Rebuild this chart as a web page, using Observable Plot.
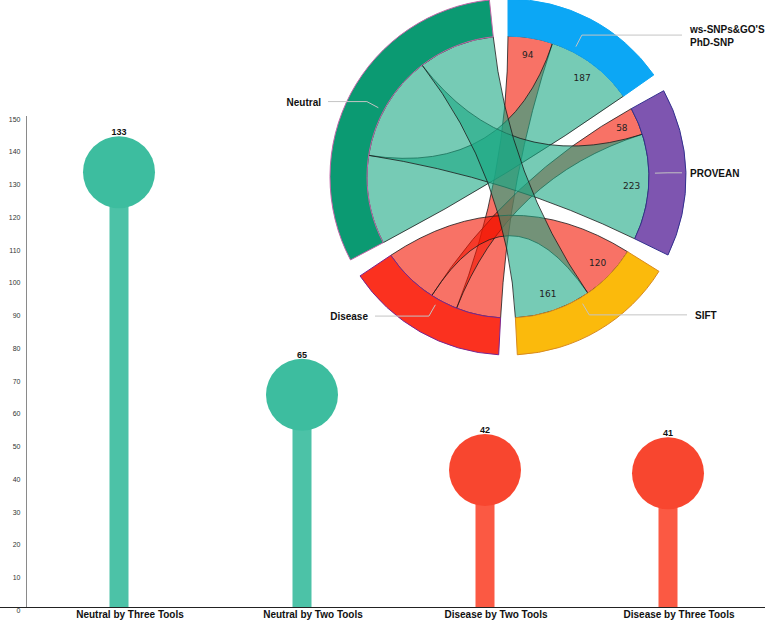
<!DOCTYPE html>
<html><head><meta charset="utf-8">
<script src="https://cdn.jsdelivr.net/npm/d3@7"></script>
<script src="https://cdn.jsdelivr.net/npm/@observablehq/plot@0.6"></script>
<style>body{margin:0;background:#fff;} svg{display:block;}</style>
</head><body><div id="chart"></div>
<script>
// ---- lollipop data ----
const categories = ["Neutral by Three Tools", "Neutral by Two Tools", "Disease by Two Tools", "Disease by Three Tools"];
const counts = [133, 65, 42, 41];
const classes = ["Neutral", "Neutral", "Disease", "Disease"];
const yTicks = [0, 10, 20, 30, 40, 50, 60, 70, 80, 90, 100, 110, 120, 130, 140, 150];

// ---- chord data ----
const tools = ["ws-SNPs&GO'S\nPhD-SNP", "PROVEAN", "SIFT"];
const toolDisease = [94, 58, 120];
const toolNeutral = [187, 223, 161];
const outcomes = ["Disease", "Neutral"];

// ---- styles ----
const dotColor = {Neutral: "#3dbd9f", Disease: "#f8462f"};
const stemColor = {Neutral: "#4cc2a7", Disease: "#fb5943"};
const groupFill = ["#0ca7f5", "#7e55b0", "#fbba0c", "#fb311f", "#0b9a72"];
const groupStroke = ["#0ca7f5", "#33308f", "#d98a1e", "#7a2590", "#c064a6"];
const ribbonFill = {Disease: "#f31400", Neutral: "#1aa984"};

const data = categories.map((c, i) => ({cat: c, value: counts[i], cls: classes[i]}));

// chord matrix: order [tools..., Disease, Neutral]
const names = [...tools, ...outcomes];
const n = names.length;
const matrix = Array.from({length: n}, () => Array(n).fill(0));
tools.forEach((t, i) => {
  matrix[i][3] = toolDisease[i]; matrix[3][i] = toolDisease[i];
  matrix[i][4] = toolNeutral[i]; matrix[4][i] = toolNeutral[i];
});

const layout = {cx: 508, cy: 177, rIn: 141, rOut: 178, pad: 6 * Math.PI / 180};
// label anchor x per group (text start for right side, text end for left side)
const labelX = [690, 690, 695, 368, 321];

function chordMark(index, scales, values, dimensions) {
  const chord = d3.chord().padAngle(layout.pad)(matrix);
  const g = d3.create("svg:g").attr("transform", `translate(${layout.cx},${layout.cy})`);
  const ribbon = d3.ribbon().radius(layout.rIn);
  const arc = d3.arc().innerRadius(layout.rIn).outerRadius(layout.rOut);
  const kind = c => (c.source.index === 3 || c.target.index === 3) ? "Disease" : "Neutral";
  const chords = Array.from(chord).sort((a, b) => (kind(a) === "Disease" ? 0 : 1) - (kind(b) === "Disease" ? 0 : 1));
  g.append("g").selectAll("path").data(chords).join("path")
    .attr("d", ribbon)
    .attr("fill", c => ribbonFill[kind(c)])
    .attr("fill-opacity", 0.6)
    .attr("stroke", "#1a1a1a")
    .attr("stroke-width", 0.8);
  g.append("g").selectAll("path").data(chord.groups).join("path")
    .attr("d", arc)
    .attr("fill", d => groupFill[d.index])
    .attr("stroke", d => groupStroke[d.index])
    .attr("stroke-width", 1);
  // ribbon value labels on tool side
  const lab = [];
  for (const c of chord) {
    const s = c.source.index < 3 ? c.source : c.target;
    lab.push({a: (s.startAngle + s.endAngle) / 2, v: s.value});
  }
  g.append("g").selectAll("text").data(lab).join("text")
    .attr("x", d => 124 * Math.sin(d.a))
    .attr("y", d => -124 * Math.cos(d.a))
    .attr("text-anchor", "middle").attr("dominant-baseline", "central")
    .attr("font-family", "DejaVu Sans").attr("font-size", 9).attr("fill", "#222")
    .text(d => d.v);
  // group labels + leader lines
  for (const grp of chord.groups) {
    const a = (grp.startAngle + grp.endAngle) / 2;
    const right = Math.sin(a) > 0;
    const p1 = [147 * Math.sin(a), -147 * Math.cos(a)];
    const p2 = [160 * Math.sin(a), -160 * Math.cos(a)];
    const lx = labelX[grp.index] - layout.cx;
    const end = right ? lx - 8 : lx + 7;
    g.append("path")
      .attr("d", `M${p1}L${p2}L${end},${p2[1]}`)
      .attr("fill", "none").attr("stroke", "#c4c4c4").attr("stroke-width", 1);
    const lines = names[grp.index].split("\n");
    const t = g.append("text")
      .attr("x", lx).attr("y", p2[1] - (lines.length - 1) * 6.5)
      .attr("text-anchor", right ? "start" : "end")
      .attr("dominant-baseline", "central")
      .attr("font-family", "Liberation Sans, Arial, sans-serif")
      .attr("font-weight", "bold").attr("font-size", 10).attr("fill", "#111");
    lines.forEach((l, i) => t.append("tspan").attr("x", lx).attr("dy", i ? 13 : 0).text(l));
  }
  return g.node();
}

const chart = Plot.plot({
  width: 765,
  height: 620,
  marginLeft: 26,
  marginRight: 5,
  marginTop: 116,
  marginBottom: 13,
  style: {fontFamily: "Liberation Sans, Arial, sans-serif", background: "#fff"},
  x: {type: "band", domain: categories, padding: 0, label: null},
  y: {domain: [0, 150], label: null},
  marks: [
    Plot.frame({anchor: "left", stroke: "#8a8a8a"}),
    Plot.axisY({ticks: yTicks, tickSize: 0, tickPadding: 6, fontSize: 7, dy: 3, fill: "#333", label: null}),
    Plot.axisX({tickSize: 0, tickPadding: 3, fontSize: 10, fontWeight: "bold", dx: 11, fill: "#111", label: null}),
    Plot.ruleX(data, {x: "cat", y1: 0, y2: "value", stroke: d => stemColor[d.cls], strokeWidth: 19}),
    Plot.dot(data, {x: "cat", y: "value", r: 36, fill: d => dotColor[d.cls], stroke: null}),
    Plot.text(data, {x: "cat", y: "value", text: d => String(d.value), dy: -40, fontSize: 9, fontWeight: "bold", fill: "#111"}),
    Plot.ruleY([0], {stroke: "#222", strokeWidth: 1, insetLeft: -26, insetRight: -5}),
    chordMark
  ]
});
document.getElementById("chart").append(chart);
</script>
</body></html>
